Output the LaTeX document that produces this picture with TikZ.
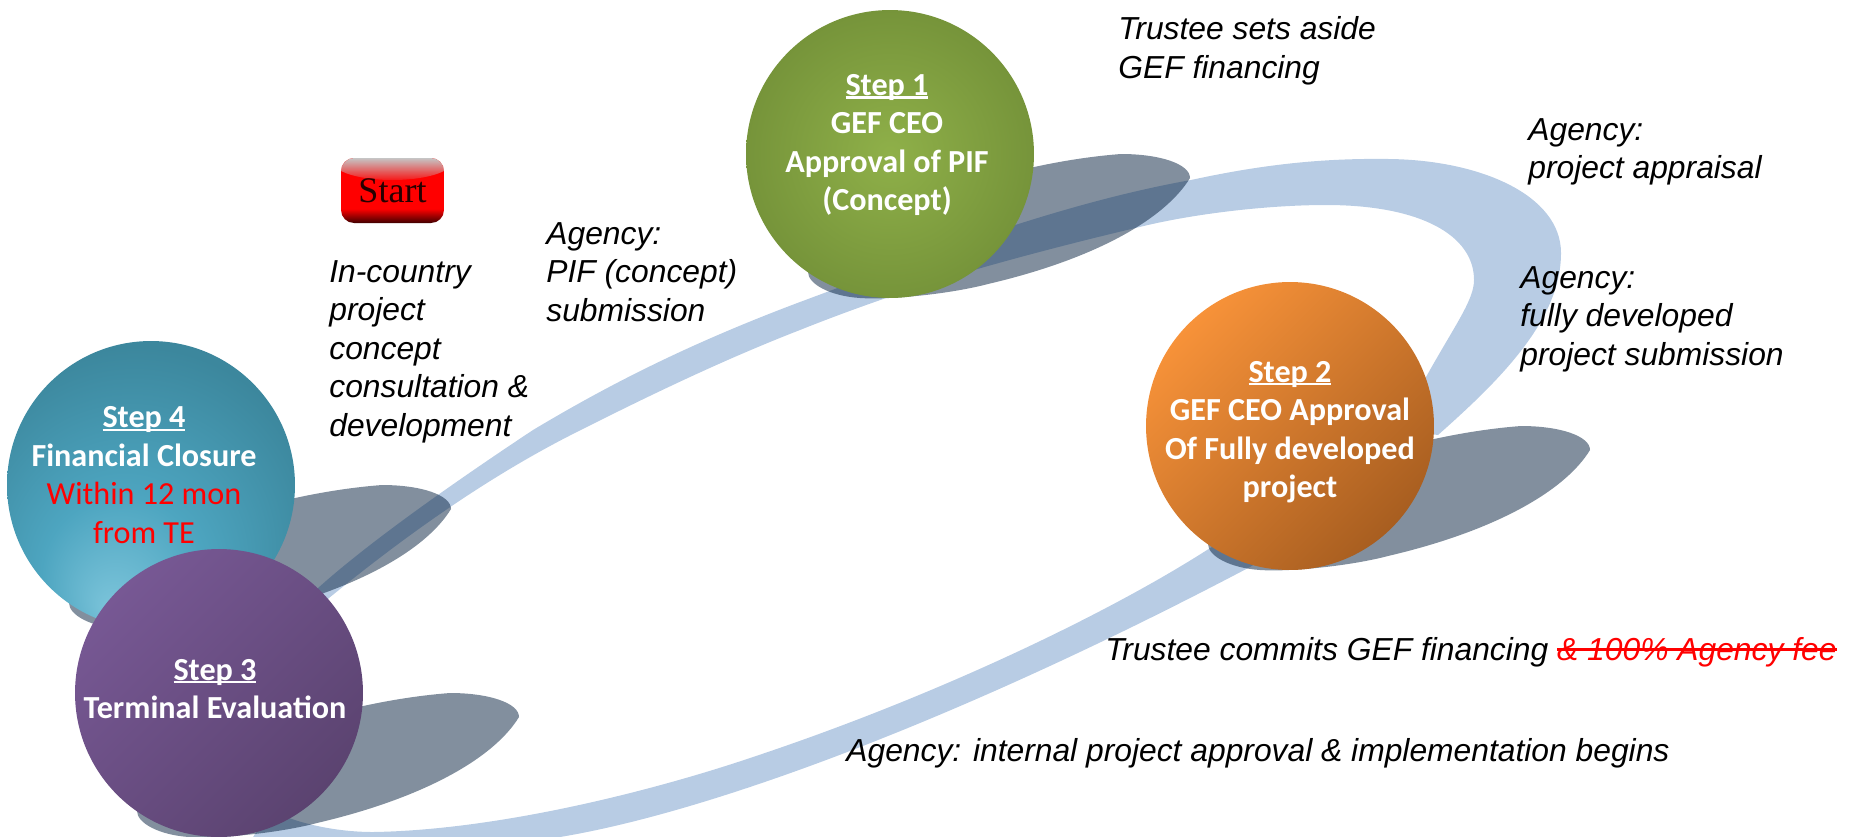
\documentclass[tikz,border=0pt]{standalone}
\usepackage{fontspec}
\usetikzlibrary{fadings}
\setmainfont{Liberation Sans}
\newfontfamily\stepfont{Carlito}
\newfontfamily\startfont{Liberation Serif}
\definecolor{ribbonblue}{HTML}{B8CCE4}
\definecolor{blobblue}{HTML}{06203E}
\definecolor{stepred}{HTML}{FF0000}
\definecolor{greenlight}{HTML}{8FB049}
\definecolor{greendark}{HTML}{76943A}
\definecolor{orangelight}{HTML}{F79239}
\definecolor{orangedark}{HTML}{A85E20}
\definecolor{purplelight}{HTML}{775894}
\definecolor{purpledark}{HTML}{5B4370}
\definecolor{teal1}{HTML}{7DC5DB}
\definecolor{teal2}{HTML}{4DA5C0}
\definecolor{teal3}{HTML}{3C879D}
\definecolor{teal4}{HTML}{327A91}
\pgfdeclareradialshading{tealball}{\pgfpoint{-7bp}{-22bp}}{%
color(0bp)=(teal1);
color(14bp)=(teal2);
color(32bp)=(teal3);
color(50bp)=(teal4)}
\pgfdeclareverticalshading{startred}{100bp}{%
color(0bp)=(black!75!red);
color(25bp)=(black!75!red);
color(36bp)=(red);
color(75bp)=(red);
color(100bp)=(red)}
\newcommand{\stepline}[1]{\sbox0{#1}\rlap{\rule[-.1em]{\wd0}{.07em}}\box0}
\newcommand{\strikeline}[1]{\sbox0{#1}\rlap{\rule[.3em]{\wd0}{.07em}}\box0}
\tikzset{
stepball/.style={circle,minimum size=5.76cm,inner sep=0pt},
steptext/.style={align=center,text=white,inner sep=0pt,
  font=\stepfont\bfseries\fontsize{18.3}{21.9}\selectfont},
notetext/.style={anchor=west,align=left,inner sep=0pt,
  font=\itshape\fontsize{18.1}{21.9}\selectfont},
blob/.style={fill=blobblue,opacity=.5}
}
\begin{document}
\begin{tikzpicture}[x=.02cm,y=-.02cm]
\useasboundingbox (0,0) rectangle (1855,836);
% ribbon
\fill[ribbonblue] (300,605) .. controls (350,555) and (450,485) .. (533,430)
 .. controls (600,390) and (680,347) .. (800,302)
 .. controls (900,265) and (1050,205) .. (1191,180)
 .. controls (1260,165) and (1320,158) .. (1389,159)
 .. controls (1480,160) and (1561,195) .. (1561,253)
 .. controls (1561,320) and (1500,380) .. (1438,435)
 -- (1400,430) -- (1426,377)
 .. controls (1455,325) and (1474,300) .. (1474,280)
 .. controls (1474,235) and (1420,205) .. (1326,205)
 .. controls (1270,205) and (1200,213) .. (1148,225)
 .. controls (1050,248) and (950,275) .. (889,297)
 .. controls (860,307) and (830,318) .. (800,330)
 .. controls (720,361) and (640,400) .. (567,437)
 .. controls (480,482) and (400,540) .. (329,598)
 -- (300,625) -- cycle;
\fill[ribbonblue] (1207,550) .. controls (1110,612) and (940,695) .. (750,758)
 .. controls (655,790) and (500,830) .. (373,832)
 .. controls (340,832) and (300,825) .. (270,810)
 -- (245,850) -- (540,840)
 .. controls (690,820) and (950,725) .. (1250,567)
 -- (1310,530) -- (1290,500) -- cycle;
% shadows under the balls
\foreach \cx/\cy in {890/154,1290/426,151/485,219/693}
\fill[blob,shift={(\cx,\cy)}] (231,0) .. controls (270,0) and (300,10) .. (300,24)
 .. controls (275,65) and (205,105) .. (98,130)
 .. controls (60,140) and (0,146) .. (-30,144)
 .. controls (-60,142) and (-82,130) .. (-82,118)
 .. controls (-50,70) and (100,10) .. (231,0) -- cycle;
% balls
\node[stepball,inner color=greenlight,outer color=greendark] (step1) at (890,154) {};
\node[stepball,left color=orangelight,right color=orangedark,shading angle=45] (step2) at (1290,426) {};
\node[stepball,shading=tealball] (step4) at (151,485) {};
\node[stepball,left color=purplelight,right color=purpledark,shading angle=45] (step3) at (219,693) {};
\node[steptext] (step1text) at (887,145) {\stepline{Step 1}\\GEF CEO\\Approval of PIF\\(Concept)};
\node[steptext] (step2text) at (1290,432) {\stepline{Step 2}\\GEF CEO Approval\\Of Fully developed\\project};
\node[steptext] (step3text) at (215,689) {\stepline{Step 3}\\Terminal Evaluation};
\node[steptext] (step4text) at (144,475) {\stepline{Step 4}\\Financial Closure\\{\color{stepred}\mdseries Within 12 mon}\\{\color{stepred}\mdseries from TE}};
% start button
\node[rounded corners=.26cm,minimum width=2.06cm,minimum height=1.3cm,inner sep=0pt,shading=startred] (start) at (392.5,190.5) {};
\fill[gray!45!white,path fading=south] (354,158) -- (431,158) .. controls (438,158) and (444,164) .. (444,171) .. controls (420,183) and (365,183) .. (341,171) .. controls (341,164) and (347,158) .. (354,158) -- cycle;
\node[inner sep=0pt,text=black!85!red,font=\startfont\fontsize{20.5}{24}\selectfont] (starttext) at (start.center) {Start};
% notes
\node[notetext] (setsaside) at (1118,51) {Trustee sets aside\\GEF financing};
\node[notetext] (appraisal) at (1528,152) {Agency:\\project appraisal};
\node[notetext] (fullsubmit) at (1520,319) {Agency:\\fully developed\\project submission};
\node[notetext] (commits) at (1105,652) {Trustee commits GEF financing {\color{stepred}\strikeline{\& 100\% Agency fee}}};
\node[notetext] (internal) at (846,753) {Agency: internal project approval \& implementation begins};
\node[notetext] (pifsubmit) at (546,272) {Agency:\\PIF (concept)\\submission};
\node[notetext] (incountry) at (329,351.5) {In-country\\project\\concept\\consultation \&\\development};
\end{tikzpicture}
\end{document}
